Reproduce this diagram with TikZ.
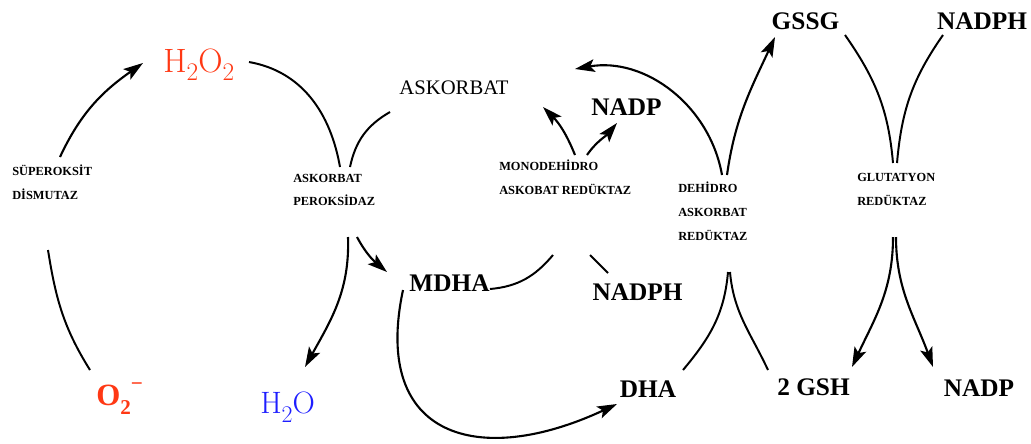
\documentclass[tikz,border=0pt]{standalone}
\usepackage{fontspec}
\newfontfamily\timesfont{Liberation Serif}
\usepackage{tikz}
\usetikzlibrary{calc, arrows.meta}
\definecolor{oxred}{RGB}{255,56,20}
\definecolor{waterblue}{RGB}{30,30,255}
\tikzstyle{arrow}    = [line width=1.5pt,-{Stealth[length=14pt,width=9pt,inset=3pt]}]
\tikzstyle{link}     = [line width=1.4pt]
\tikzstyle{species}  = [inner sep=0pt,font=\timesfont\bfseries\fontsize{18}{20}\selectfont]
\tikzstyle{enzyme}   = [inner sep=0pt,anchor=west,align=left,font=\timesfont\bfseries\fontsize{8.8}{17}\selectfont]
\tikzstyle{molecule} = [inner sep=0pt,anchor=base west]

\begin{document}
\begin{tikzpicture}[x=0.025cm,y=-0.025cm]
  \useasboundingbox (0,0) rectangle (1031,443);

  %put the oxygen species on the left
  \node[molecule,text=oxred,font=\fontsize{24}{28}\selectfont] (h2o2) at (163,72)
    {H\raisebox{-0.25em}{\fontsize{18}{18}\selectfont 2}O\raisebox{-0.25em}{\fontsize{18}{18}\selectfont 2}};
  \node[molecule,text=oxred,font=\timesfont\bfseries\fontsize{22}{26}\selectfont] (o2) at (96,405)
    {O\raisebox{-0.3em}{\fontsize{15}{15}\selectfont 2}\raisebox{10pt}{\fontsize{15}{15}\selectfont −}};
  \node[molecule,text=waterblue,font=\fontsize{22}{26}\selectfont] (h2o) at (260,413)
    {H\raisebox{-0.3em}{\fontsize{17}{17}\selectfont 2}O};
  \node[inner sep=0pt,font=\timesfont\fontsize{14.7}{17}\selectfont] (asc) at (454,88) {ASKORBAT};

  %put the other species
  \foreach \n/\x/\y/\t in {mdha/449.5/283.5/MDHA, nadpTop/626.5/107.5/NADP,
      nadphMid/637.5/292/NADPH, gssg/805.5/21/GSSG, nadphTop/982/21/NADPH,
      dha/648/389.5/DHA, gsh/813.5/387.5/2 GSH, nadpBot/979/388/NADP}{
    \node[species] (\n) at (\x,\y) {\t};
  }

  %enzymes
  \node[enzyme] (sod) at (12,182) {SÜPEROKSİT\\DİSMUTAZ};
  \node[enzyme] (apx) at (293,190) {ASKORBAT\\PEROKSİDAZ};
  \node[enzyme] (mdhar) at (499,177.5) {MONODEHİDRO\\ASKOBAT REDÜKTAZ};
  \node[enzyme] (dhar) at (678,211) {DEHİDRO\\ASKORBAT\\REDÜKTAZ};
  \node[enzyme] (gr) at (857,189) {GLUTATYON\\REDÜKTAZ};

  %superoxide and peroxidase
  \draw[arrow] ($(sod.west)+(48,-25)$) to[out=65,in=215] ($(h2o2.base west)+(-20,-9)$);
  \draw[link] ($(o2.base west)+(-6,-35)$) to[out=122,in=-81] ($(sod.west)+(36,68)$);
  \draw[link] ($(h2o2.base west)+(86,-10)$) to[out=-10,in=100] ($(apx.west)+(47,-23)$);
  \draw[link] ($(asc)+(-64,24)$) to[out=210,in=78] ($(apx.west)+(57,-23)$);
  \draw[arrow] ($(apx.west)+(55,47)$) to[out=-88,in=61] ($(h2o.base west)+(45,-46)$);
  \draw[arrow] ($(apx.west)+(64,47)$) to[out=-62,in=140] ($(mdha)+(-62.5,-11.5)$);

  %monodehydroascorbate reductase
  \draw[link] ($(mdha)+(40.5,5.5)$) to[out=5,in=230] ($(mdhar.west)+(54,77.5)$);
  \draw[link] ($(nadphMid)+(-29.5,-19)$) -- ($(mdhar.west)+(91,77.5)$);
  \draw[arrow] ($(mdhar.west)+(76,-22.5)$) to[out=112,in=-45] ($(asc)+(89,19)$);
  \draw[arrow] ($(mdhar.west)+(88,-22.5)$) to[out=55,in=230] ($(nadpTop)+(-9.5,15.5)$);
  \draw[arrow] ($(mdha)+(-46.5,6.5)$) to[out=-102,in=205,looseness=1.6] ($(dha)+(-31,14.5)$);

  %dehydroascorbate reductase
  \draw[arrow] ($(dhar.west)+(44,-36)$) to[out=100,in=10] ($(asc)+(121,-19)$);
  \draw[arrow] ($(dhar.west)+(49,-36)$) to[out=82,in=245] ($(gssg)+(-30.5,16)$);
  \draw[link] ($(dha)+(35,-19.5)$) to[out=50,in=-95] ($(dhar.west)+(50,61)$);
  \draw[link] ($(gsh)+(-45.5,-17.5)$) to[out=115,in=-85] ($(dhar.west)+(52,61)$);

  %glutathione reductase
  \draw[link] ($(gssg)+(39.5,14)$) to[out=-55,in=95] ($(gr.west)+(36,-26)$);
  \draw[link] ($(nadphTop)+(-39,14)$) to[out=-125,in=85] ($(gr.west)+(40,-26)$);
  \draw[arrow] ($(gr.west)+(36,48)$) to[out=-90,in=65] ($(gsh)+(38.5,-20.5)$);
  \draw[arrow] ($(gr.west)+(39,48)$) to[out=-90,in=110] ($(nadpBot)+(-46,-21)$);
\end{tikzpicture}
\end{document}
